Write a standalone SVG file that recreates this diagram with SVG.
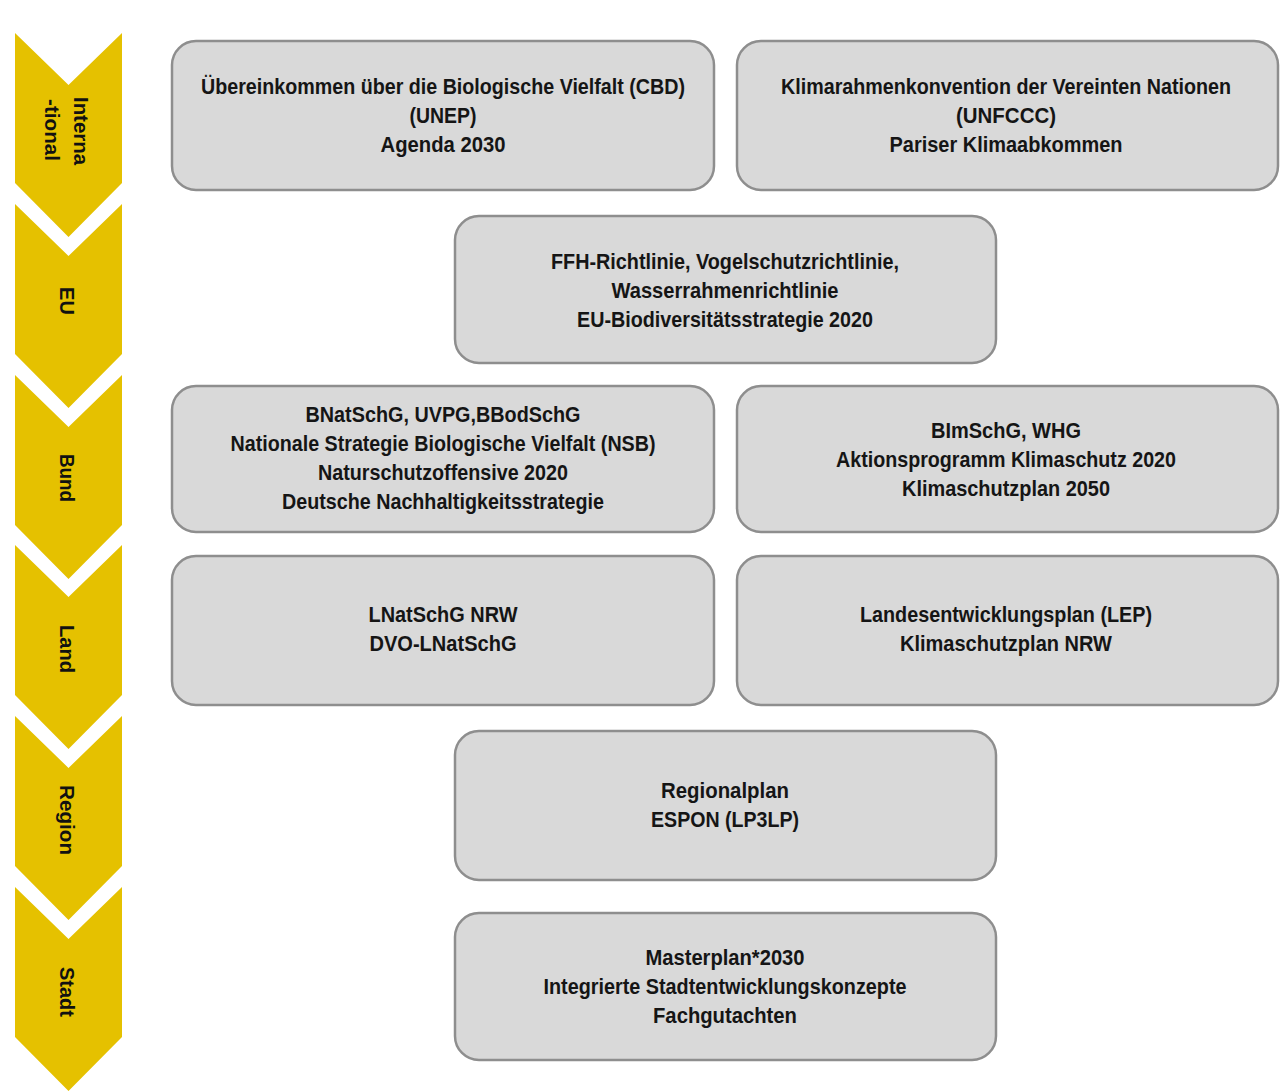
<svg xmlns="http://www.w3.org/2000/svg" width="1281" height="1092" viewBox="0 0 1281 1092">
<style>
.chev{fill:#E5C100}
.lbl{font-family:"Liberation Sans",Arial,sans-serif;font-weight:bold;font-size:20px;fill:#111;text-anchor:middle}
.box{fill:#D9D9D9;stroke:#8E8E8E;stroke-width:2.5}
.t{font-family:"Liberation Sans",Arial,sans-serif;font-weight:bold;font-size:22px;fill:#151515;text-anchor:middle}
</style>
<rect width="1281" height="1092" fill="#fff"/>
<g id="levels">
<g id="lvl-international"><polygon class="chev" points="15,33 68.5,85 122,33 122,183 68.5,237 15,183"/>
<text class="lbl" transform="translate(74,131) rotate(90)" textLength="68" lengthAdjust="spacingAndGlyphs">Interna</text>
<text class="lbl" transform="translate(45,130) rotate(90)" textLength="62" lengthAdjust="spacingAndGlyphs">-tional</text></g>
<g id="lvl-eu"><polygon class="chev" points="15,204 68.5,256 122,204 122,354 68.5,408 15,354"/>
<text class="lbl" transform="translate(60,301) rotate(90)">EU</text></g>
<g id="lvl-bund"><polygon class="chev" points="15,375 68.5,427 122,375 122,525 68.5,579 15,525"/>
<text class="lbl" transform="translate(60,478) rotate(90)" textLength="48" lengthAdjust="spacingAndGlyphs">Bund</text></g>
<g id="lvl-land"><polygon class="chev" points="15,545 68.5,597 122,545 122,695 68.5,749 15,695"/>
<text class="lbl" transform="translate(60,649) rotate(90)" textLength="48" lengthAdjust="spacingAndGlyphs">Land</text></g>
<g id="lvl-region"><polygon class="chev" points="15,716 68.5,768 122,716 122,866 68.5,920 15,866"/>
<text class="lbl" transform="translate(60,820) rotate(90)" textLength="70" lengthAdjust="spacingAndGlyphs">Region</text></g>
<g id="lvl-stadt"><polygon class="chev" points="15,887 68.5,939 122,887 122,1037 68.5,1091 15,1037"/>
<text class="lbl" transform="translate(60,992) rotate(90)" textLength="50" lengthAdjust="spacingAndGlyphs">Stadt</text></g>
</g>
<g id="connectors"></g>
<g id="cbd"><rect class="box" x="172" y="41" width="542" height="149" rx="24"/>
<text class="t" x="443" y="94" textLength="484" lengthAdjust="spacingAndGlyphs">Übereinkommen über die Biologische Vielfalt (CBD)</text>
<text class="t" x="443" y="123" textLength="67" lengthAdjust="spacingAndGlyphs">(UNEP)</text>
<text class="t" x="443" y="152" textLength="125" lengthAdjust="spacingAndGlyphs">Agenda 2030</text></g>
<g id="unfccc"><rect class="box" x="737" y="41" width="541" height="149" rx="24"/>
<text class="t" x="1006" y="94" textLength="450" lengthAdjust="spacingAndGlyphs">Klimarahmenkonvention der Vereinten Nationen</text>
<text class="t" x="1006" y="123" textLength="100" lengthAdjust="spacingAndGlyphs">(UNFCCC)</text>
<text class="t" x="1006" y="152" textLength="233" lengthAdjust="spacingAndGlyphs">Pariser Klimaabkommen</text></g>
<g id="eu"><rect class="box" x="455" y="216" width="541" height="147" rx="24"/>
<text class="t" x="725" y="269" textLength="348" lengthAdjust="spacingAndGlyphs">FFH-Richtlinie, Vogelschutzrichtlinie,</text>
<text class="t" x="725" y="298" textLength="227" lengthAdjust="spacingAndGlyphs">Wasserrahmenrichtlinie</text>
<text class="t" x="725" y="327" textLength="296" lengthAdjust="spacingAndGlyphs">EU-Biodiversitätsstrategie 2020</text></g>
<g id="bund-natur"><rect class="box" x="172" y="386" width="542" height="146" rx="24"/>
<text class="t" x="443" y="422" textLength="275" lengthAdjust="spacingAndGlyphs">BNatSchG, UVPG,BBodSchG</text>
<text class="t" x="443" y="451" textLength="425" lengthAdjust="spacingAndGlyphs">Nationale Strategie Biologische Vielfalt (NSB)</text>
<text class="t" x="443" y="480" textLength="250" lengthAdjust="spacingAndGlyphs">Naturschutzoffensive 2020</text>
<text class="t" x="443" y="509" textLength="322" lengthAdjust="spacingAndGlyphs">Deutsche Nachhaltigkeitsstrategie</text></g>
<g id="bund-klima"><rect class="box" x="737" y="386" width="541" height="146" rx="24"/>
<text class="t" x="1006" y="438" textLength="150" lengthAdjust="spacingAndGlyphs">BImSchG, WHG</text>
<text class="t" x="1006" y="467" textLength="340" lengthAdjust="spacingAndGlyphs">Aktionsprogramm Klimaschutz 2020</text>
<text class="t" x="1006" y="496" textLength="208" lengthAdjust="spacingAndGlyphs">Klimaschutzplan 2050</text></g>
<g id="land-natur"><rect class="box" x="172" y="556" width="542" height="149" rx="24"/>
<text class="t" x="443" y="622" textLength="149" lengthAdjust="spacingAndGlyphs">LNatSchG NRW</text>
<text class="t" x="443" y="651" textLength="147" lengthAdjust="spacingAndGlyphs">DVO-LNatSchG</text></g>
<g id="land-plan"><rect class="box" x="737" y="556" width="541" height="149" rx="24"/>
<text class="t" x="1006" y="622" textLength="292" lengthAdjust="spacingAndGlyphs">Landesentwicklungsplan (LEP)</text>
<text class="t" x="1006" y="651" textLength="212" lengthAdjust="spacingAndGlyphs">Klimaschutzplan NRW</text></g>
<g id="region"><rect class="box" x="455" y="731" width="541" height="149" rx="24"/>
<text class="t" x="725" y="798" textLength="128" lengthAdjust="spacingAndGlyphs">Regionalplan</text>
<text class="t" x="725" y="827" textLength="148" lengthAdjust="spacingAndGlyphs">ESPON (LP3LP)</text></g>
<g id="stadt"><rect class="box" x="455" y="913" width="541" height="147" rx="24"/>
<text class="t" x="725" y="965" textLength="159" lengthAdjust="spacingAndGlyphs">Masterplan*2030</text>
<text class="t" x="725" y="994" textLength="363" lengthAdjust="spacingAndGlyphs">Integrierte Stadtentwicklungskonzepte</text>
<text class="t" x="725" y="1023" textLength="144" lengthAdjust="spacingAndGlyphs">Fachgutachten</text></g>
</svg>
